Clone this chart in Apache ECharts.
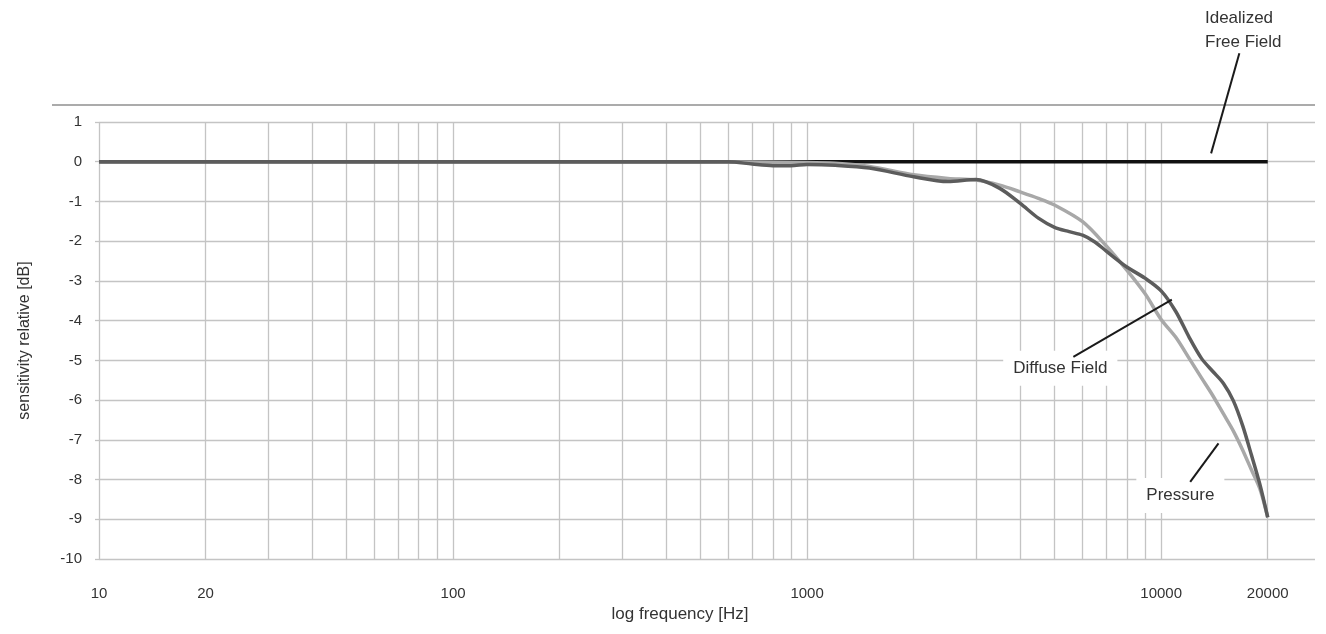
<!DOCTYPE html>
<html><head><meta charset="utf-8">
<script src="https://cdn.jsdelivr.net/npm/echarts@6/dist/echarts.min.js"></script>
<style>html,body{margin:0;padding:0;background:#fff}#c{width:1326px;height:634px}</style>
</head><body><div id="c"></div>
<script>
// ---- data ----
const gridFreqs = [10,20,30,40,50,60,70,80,90,100,200,300,400,500,600,700,800,900,1000,2000,3000,4000,5000,6000,7000,8000,9000,10000,20000];
const labelFreqs = [10,20,100,1000,10000,20000];

const freeFieldFreq = [10, 20000];
const freeFieldDb   = [0, 0];

const diffuseFreq = [10,100,500,600,700,800,900,1000,1200,1500,2000,2500,3000,3500,4000,4500,5000,5500,6000,6500,7000,8000,9000,10000,11000,12000,13000,14000,15000,16000,17000,18000,19000,20000];
const diffuseDb   = [0,0,0,0,-0.06,-0.1,-0.1,-0.07,-0.09,-0.16,-0.38,-0.5,-0.45,-0.67,-1.05,-1.42,-1.65,-1.76,-1.85,-2.02,-2.25,-2.65,-2.93,-3.25,-3.77,-4.42,-4.95,-5.28,-5.58,-6.02,-6.65,-7.39,-8.12,-8.95];

const pressureFreq = [10,100,500,1000,1200,1500,2000,2500,3000,3500,4000,4500,5000,6000,7000,8000,9000,10000,11000,12000,13000,14000,15000,16000,17000,18000,19000,20000];
const pressureDb   = [0,0,0,-0.02,-0.04,-0.12,-0.33,-0.42,-0.46,-0.59,-0.76,-0.92,-1.09,-1.51,-2.12,-2.73,-3.32,-3.97,-4.42,-4.95,-5.44,-5.89,-6.35,-6.78,-7.26,-7.76,-8.23,-8.95];

const seriesNames = ['Idealized Free Field', 'Pressure', 'Diffuse Field'];

// annotation anchors in data space [freq, dB]
const annIdealText = [13300, 3.32];
const annIdealLine = [[16630, 2.73], [13840, 0.21]];
const annDiffuseText = [5190, -5.2];
const annDiffuseLine = [[5650, -4.91], [10720, -3.47]];
const annPressureText = [11330, -8.4];
const annPressureLine = [[12080, -8.06], [14520, -7.09]];

const zip = (xs, ys) => xs.map((x, i) => [x, ys[i]]);
const FONT = '"Liberation Sans", Arial, Helvetica, sans-serif';
const chart = echarts.init(document.getElementById('c'), null, {renderer: 'canvas'});

chart.setOption({
  animation: false,
  backgroundColor: '#fff',
  grid: {left: 99, right: 11, top: 122, bottom: 75, containLabel: false},
  xAxis: {
    type: 'log', logBase: 10, min: 10, max: 27200,
    name: 'log frequency [Hz]', nameLocation: 'middle', nameGap: 46,
    nameTextStyle: {fontSize: 17, color: '#333', fontFamily: FONT, padding: [0, 54, 0, 0]},
    axisLine: {show: false},
    axisTick: {show: false, customValues: gridFreqs},
    axisLabel: {customValues: labelFreqs, margin: 27, fontSize: 15, color: '#333', fontFamily: FONT,
                formatter: v => String(Math.round(v))},
    splitLine: {show: true, lineStyle: {color: '#c4c4c4', width: 1.3}},
    minorSplitLine: {show: false}
  },
  yAxis: {
    type: 'value', min: -10, max: 1, interval: 1,
    name: 'sensitivity relative [dB]', nameLocation: 'middle', nameGap: 66,
    nameTextStyle: {fontSize: 16, color: '#333', fontFamily: FONT},
    axisLine: {show: false},
    axisTick: {show: true, length: 4, lineStyle: {color: '#c4c4c4', width: 1.3}},
    axisLabel: {margin: 17, fontSize: 15, color: '#333', fontFamily: FONT},
    splitLine: {show: true, lineStyle: {color: '#c4c4c4', width: 1.3}}
  },
  series: [
    {name: seriesNames[0], type: 'line', data: zip(freeFieldFreq, freeFieldDb), showSymbol: false,
     lineStyle: {color: '#111', width: 3.5}, z: 2},
    {name: seriesNames[1], type: 'line', data: zip(pressureFreq, pressureDb), showSymbol: false, smooth: 0.3,
     lineStyle: {color: '#a8a8a8', width: 3.5}, z: 3},
    {name: seriesNames[2], type: 'line', data: zip(diffuseFreq, diffuseDb), showSymbol: false, smooth: 0.3,
     lineStyle: {color: '#5c5c5c', width: 3.5}, z: 4}
  ]
});

const px = p => chart.convertToPixel({gridIndex: 0}, p);
function leader(pair) {
  const a = px(pair[0]), b = px(pair[1]);
  return {type: 'line', z: 100, shape: {x1: a[0], y1: a[1], x2: b[0], y2: b[1]}, style: {stroke: '#1a1a1a', lineWidth: 2}};
}
function boxedText(p, text) {
  const c = px(p);
  return {type: 'text', z: 90, x: c[0], y: c[1],
    style: {text: text, fill: '#333', font: '17px ' + FONT, align: 'center', verticalAlign: 'middle',
            backgroundColor: '#fff', padding: [9, 10, 9, 10]}};
}
const gr = px([27200, 1]);
const it = px(annIdealText);
chart.setOption({
  graphic: [
    {type: 'line', z: 50, shape: {x1: 52, y1: 105, x2: gr[0], y2: 105}, style: {stroke: '#ababab', lineWidth: 2}},
    {type: 'text', z: 90, x: it[0], y: it[1],
     style: {text: 'Idealized\nFree Field', fill: '#333', font: '17px ' + FONT, lineHeight: 24, align: 'left', verticalAlign: 'middle'}},
    leader(annIdealLine),
    boxedText(annDiffuseText, 'Diffuse Field'),
    leader(annDiffuseLine),
    boxedText(annPressureText, 'Pressure'),
    leader(annPressureLine)
  ]
});
</script></body></html>
